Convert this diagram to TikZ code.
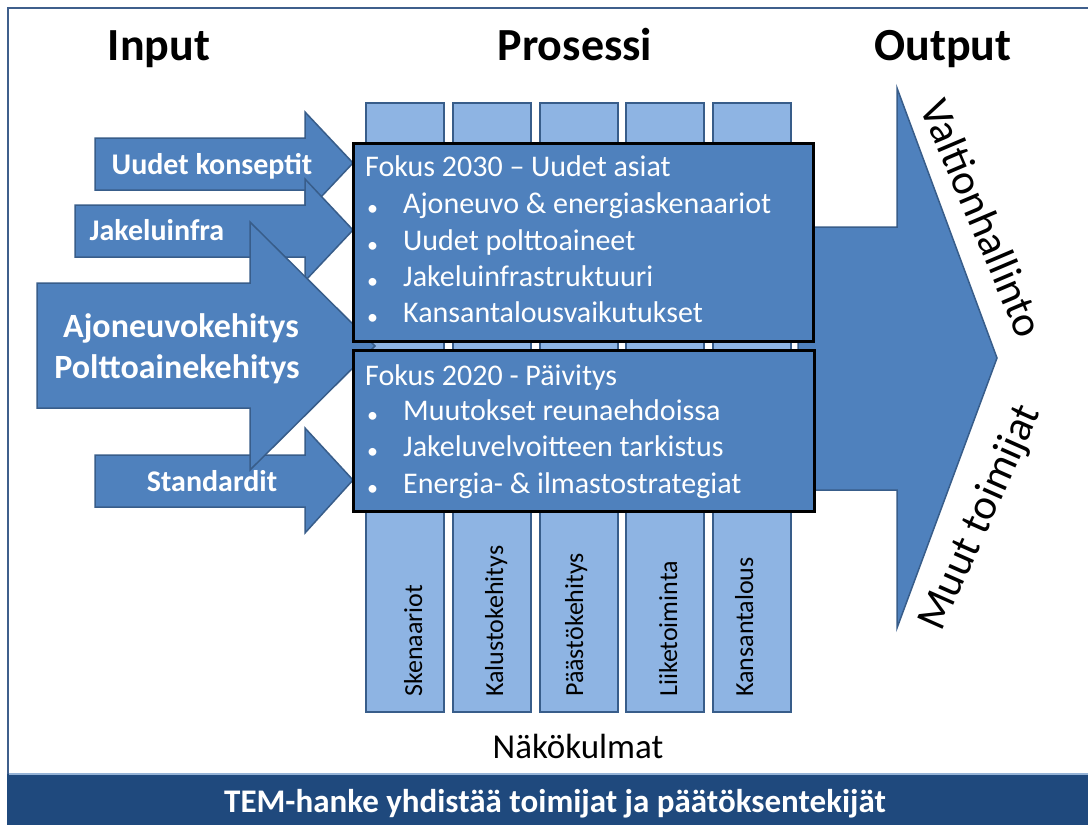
\documentclass[tikz,border=0pt]{standalone}
\usepackage{fontspec}
\setmainfont{Carlito}
\definecolor{arrblue}{RGB}{79,129,189}
\definecolor{arrline}{RGB}{56,93,138}
\definecolor{colblue}{RGB}{142,180,227}
\definecolor{barblue}{RGB}{31,73,125}
\definecolor{barline}{RGB}{149,179,215}
\definecolor{frameblue}{RGB}{63,95,140}
\begin{document}
\begin{tikzpicture}[x=1pt,y=1pt,
  arr/.style={fill=arrblue, draw=arrline, line width=1.5pt, line join=miter},
  colbox/.style={fill=colblue, draw=arrline, line width=2pt, anchor=north west, inner sep=0pt, minimum width=78pt, minimum height=609pt},
  fokus/.style={fill=arrblue, draw=black, line width=3pt, anchor=north west, inner sep=0pt},
  boxtxt/.style={text=white, font=\fontsize{30}{36}\selectfont, inner sep=0pt, anchor=base west},
  bul/.style={text=white, font=\fontsize{22}{26}\selectfont, inner sep=0pt, anchor=base west},
  inlbl/.style={text=white, font=\bfseries\fontsize{30}{36}\selectfont, inner sep=0pt, anchor=base},
  biglbl/.style={text=white, font=\bfseries\fontsize{34}{40}\selectfont, inner sep=0pt, anchor=base},
  headtxt/.style={font=\bfseries\fontsize{46}{50}\selectfont, inner sep=0pt, anchor=base},
  collbl/.style={font=\fontsize{26}{30}\selectfont, inner sep=0pt, anchor=base west, rotate=90},
  outlbl/.style={font=\fontsize{43}{46}\selectfont, inner sep=0pt}
]
\useasboundingbox (0,0) rectangle (1088,-825);
\fill[white] (0,0) rectangle (1088,-825);
% frame
\draw[frameblue, line width=2.5pt] (1095,-8) -- (8,-8) -- (8,-780);
% bottom bar
\fill[barblue] (7,-774) rectangle (1090,-826);
\draw[barline, line width=1.5pt] (9,-774) -- (1090,-774);
\node[font=\bfseries\fontsize{33}{38}\selectfont, text=white, inner sep=0pt, anchor=base] (bar) at (555,-812) {TEM-hanke yhdistää toimijat ja päätöksentekijät};

% headers
\node[headtxt] (hin) at (159,-60) {Input};
\node[headtxt] (hpro) at (575,-60) {Prosessi};
\node[headtxt] (hout) at (943,-60) {Output};

% columns
\node[colbox] (c1) at (365,-102) {};
\node[colbox] (c2) at (452,-102) {};
\node[colbox] (c3) at (539,-102) {};
\node[colbox] (c4) at (625,-102) {};
\node[colbox] (c5) at (712,-102) {};
\node[collbl] (l1) at (422,-697) {Skenaariot};
\node[collbl] (l2) at (503,-697) {Kalustokehitys};
\node[collbl] (l3) at (583,-697) {Päästökehitys};
\node[collbl] (l4) at (677,-697) {Liiketoiminta};
\node[collbl] (l5) at (753,-697) {Kansantalous};
\node[font=\fontsize{35}{40}\selectfont, inner sep=0pt, anchor=base] (nako) at (578,-758) {Näkökulmat};

% output arrow
\draw[arr] (798,-227) -- (897,-227) -- (897,-88) -- (997,-358) -- (897,-628) -- (897,-490) -- (798,-490) -- cycle;

% input arrows
\draw[arr] (95,-138) -- (305,-138) -- (305,-112) -- (353,-163) -- (305,-214) -- (305,-190) -- (95,-190) -- cycle;
\draw[arr] (75,-205) -- (305,-205) -- (305,-179) -- (353,-230) -- (305,-281) -- (305,-257) -- (75,-257) -- cycle;
\draw[arr] (95,-455) -- (305,-455) -- (305,-428) -- (353,-480) -- (305,-533) -- (305,-507) -- (95,-507) -- cycle;
\draw[arr] (37,-283) -- (250,-283) -- (250,-222) -- (375,-346) -- (250,-470) -- (250,-408) -- (37,-408) -- cycle;

% fokus boxes
\node[fokus, minimum width=460pt, minimum height=198pt] (f1) at (352,-142) {};
\node[fokus, minimum width=461pt, minimum height=161pt] (f2) at (352,-349) {};

% fokus texts
\node[boxtxt] (t10) at (365,-176) {Fokus 2030 – Uudet asiat};
\node[bul] (b11) at (367,-215) {•};
\node[boxtxt] (t11) at (403,-213) {Ajoneuvo \& energiaskenaariot};
\node[bul] (b12) at (367,-252) {•};
\node[boxtxt] (t12) at (403,-250) {Uudet polttoaineet};
\node[bul] (b13) at (367,-288) {•};
\node[boxtxt] (t13) at (403,-286) {Jakeluinfrastruktuuri};
\node[bul] (b14) at (367,-324) {•};
\node[boxtxt] (t14) at (403,-322) {Kansantalousvaikutukset};

\node[boxtxt] (t20) at (365,-385) {Fokus 2020 - Päivitys};
\node[bul] (b21) at (367,-422) {•};
\node[boxtxt] (t21) at (403,-420) {Muutokset reunaehdoissa};
\node[bul] (b22) at (367,-458) {•};
\node[boxtxt] (t22) at (403,-456) {Jakeluvelvoitteen tarkistus};
\node[bul] (b23) at (367,-495) {•};
\node[boxtxt] (t23) at (403,-493) {Energia- \& ilmastostrategiat};

% input labels
\node[inlbl] (i1) at (212,-174) {Uudet konseptit};
\node[inlbl] (i2) at (157,-240) {Jakeluinfra};
\node[biglbl] (i3) at (181,-337) {Ajoneuvokehitys};
\node[biglbl] (i4) at (177,-378) {Polttoainekehitys};
\node[inlbl] (i5) at (212,-491) {Standardit};

% output labels
\node[outlbl, rotate=-67] (o1) at (983,-218) {Valtionhallinto};
\node[outlbl, rotate=66] (o2) at (981,-518) {Muut toimijat};
\end{tikzpicture}
\end{document}
